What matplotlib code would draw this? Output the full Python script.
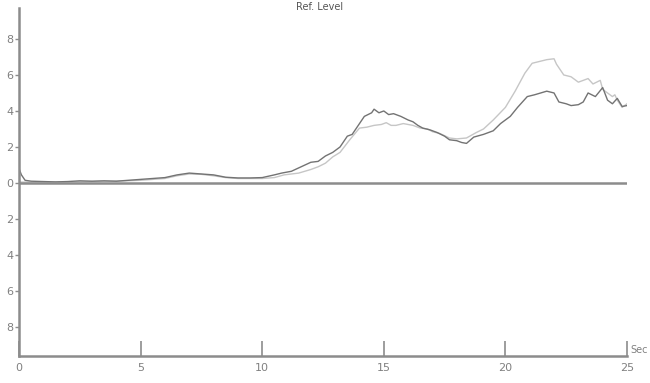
import matplotlib
matplotlib.use("Agg")
import matplotlib.pyplot as plt
from matplotlib.ticker import FuncFormatter

# ---- data ----
dark_t = [0.0, 0.1, 0.25, 0.5, 1.0, 1.5, 2.0, 2.5, 3.0, 3.5, 4.0, 4.5, 5.0, 5.5, 6.0,
          6.5, 7.0, 7.5, 8.0, 8.5, 9.0, 9.5, 10.0, 10.5, 10.8, 11.2, 11.6, 12.0, 12.3,
          12.6, 12.9, 13.2, 13.5, 13.7, 14.0, 14.2, 14.5, 14.6, 14.8, 15.0, 15.2, 15.4,
          15.7, 16.0, 16.2, 16.4, 16.6, 16.9, 17.2, 17.5, 17.7, 18.0, 18.2, 18.4, 18.7,
          19.1, 19.5, 19.8, 20.2, 20.5, 20.9, 21.2, 21.7, 22.0, 22.2, 22.5, 22.7, 23.0,
          23.2, 23.4, 23.7, 24.0, 24.2, 24.4, 24.6, 24.8, 25.0]
dark_v = [0.8, 0.45, 0.15, 0.1, 0.08, 0.06, 0.08, 0.12, 0.1, 0.12, 0.1, 0.15, 0.2, 0.25, 0.3,
          0.45, 0.55, 0.5, 0.45, 0.32, 0.28, 0.28, 0.3, 0.45, 0.55, 0.65, 0.9, 1.15, 1.2,
          1.5, 1.7, 2.0, 2.6, 2.7, 3.3, 3.7, 3.9, 4.1, 3.9, 4.0, 3.8, 3.85,
          3.7, 3.5, 3.4, 3.2, 3.05, 2.95, 2.8, 2.6, 2.4, 2.35, 2.25, 2.2, 2.55,
          2.7, 2.9, 3.3, 3.7, 4.2, 4.8, 4.9, 5.1, 5.0, 4.5, 4.4, 4.3, 4.35,
          4.5, 5.0, 4.8, 5.3, 4.6, 4.4, 4.7, 4.25, 4.3]

light_t = [0.0, 1.0, 2.0, 3.0, 4.0, 5.0, 6.0, 6.5, 7.0, 7.5, 8.0, 8.5, 9.0, 10.0, 10.5,
           10.9, 11.5, 12.0, 12.3, 12.6, 12.9, 13.2, 13.6, 14.0, 14.3, 14.6, 14.9, 15.1,
           15.3, 15.5, 15.8, 16.2, 16.5, 16.8, 17.0, 17.3, 17.7, 18.0, 18.4, 18.8, 19.1,
           19.5, 20.0, 20.4, 20.8, 21.1, 21.4, 21.7, 22.0, 22.1, 22.4, 22.7, 23.0, 23.2,
           23.4, 23.6, 23.9, 24.0, 24.2, 24.4, 24.5, 24.6, 24.8, 25.0]
light_v = [0.05, 0.05, 0.06, 0.08, 0.1, 0.15, 0.25, 0.4, 0.5, 0.48, 0.4, 0.3, 0.25, 0.25, 0.3,
           0.45, 0.55, 0.75, 0.9, 1.1, 1.45, 1.7, 2.4, 3.05, 3.1, 3.2, 3.25, 3.35,
           3.2, 3.2, 3.3, 3.2, 3.05, 3.0, 2.85, 2.75, 2.5, 2.45, 2.5, 2.8, 3.0,
           3.5, 4.2, 5.1, 6.1, 6.65, 6.75, 6.85, 6.9, 6.6, 6.0, 5.9, 5.6, 5.7,
           5.8, 5.5, 5.7, 5.2, 5.0, 4.8, 4.9, 4.6, 4.2, 4.4]

x_ticks = [0, 5, 10, 15, 20, 25]
y_ticks = [-8, -6, -4, -2, 0, 2, 4, 6, 8]
title_text = "Ref. Level"
x_unit = "Sec"

AX_COL = "#8c8c8c"
TXT_COL = "#808080"

fig = plt.figure(figsize=(6.5, 3.83), dpi=100)
ax = fig.add_axes([19 / 650, 27 / 383, 608 / 650, 348 / 383])
ax.set_xlim(0, 25)
ax.set_ylim(-9.61, 9.72)

ax.plot(light_t, light_v, color="#c6c6c6", lw=1.0)
ax.plot(dark_t, dark_v, color="#737373", lw=1.0)
ax.axhline(0, color=AX_COL, lw=1.8, xmin=0, xmax=1)

for s in ["top", "right"]:
    ax.spines[s].set_visible(False)
for s in ["left", "bottom"]:
    ax.spines[s].set_color(AX_COL)
    ax.spines[s].set_linewidth(1.8)

ax.set_yticks(y_ticks)
ax.yaxis.set_major_formatter(FuncFormatter(lambda v, p: f"{abs(int(v))}"))
ax.tick_params(axis="y", direction="out", length=3, width=1, color=AX_COL,
               labelcolor=TXT_COL, labelsize=8, pad=1)

ax.set_xticks(x_ticks)
ax.tick_params(axis="x", direction="in", length=11, width=1.2, color=AX_COL,
               labelcolor=TXT_COL, labelsize=8, pad=5)

fig.text(630 / 650, 1 - 350 / 383, x_unit, ha="left", va="center",
         color=TXT_COL, fontsize=7)
fig.text(320 / 650, 1 - 7 / 383, title_text, ha="center", va="center",
         color="#555555", fontsize=7)

fig.savefig("out.png", dpi=100)
